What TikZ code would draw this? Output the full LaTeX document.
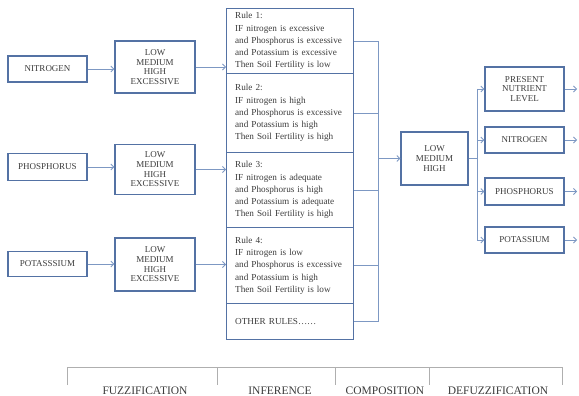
\documentclass[tikz,border=0pt]{standalone}
\usepackage{fontspec}
\setmainfont{Liberation Serif}
\usetikzlibrary{arrows.meta}
\definecolor{boxc}{RGB}{84,114,164}
\definecolor{linec}{RGB}{125,152,195}
\definecolor{txt}{RGB}{60,60,60}
\definecolor{brk}{RGB}{175,175,175}
\begin{document}
\begin{tikzpicture}[x=1pt,y=-1pt,
  box/.style={draw=boxc, line width=1.3pt, fill=white, text=txt, align=center, inner sep=0pt, font=\fontsize{9}{9.7}\selectfont},
  rulebox/.style={draw=boxc, line width=1.3pt, text=txt, align=left, anchor=north west, minimum width=127pt, text width=110pt, inner xsep=8.5pt, inner ysep=0pt, font=\fontsize{9.2}{12.3}\selectfont},
  conn/.style={draw=linec, line width=0.8pt},
  arr/.style={conn, -{Straight Barb[length=3pt,width=6pt]}},
  lbl/.style={text=txt, font=\fontsize{11.5}{12}\selectfont, anchor=base, inner sep=0pt}]
\useasboundingbox (0,0) rectangle (579,396);

% rules column
\node[rulebox, minimum height=65pt] (r1) at (226,8) {Rule 1:\\IF nitrogen is excessive\\and Phosphorus is excessive\\and Potassium is excessive\\Then Soil Fertility is low};
\node[rulebox, minimum height=79pt] (r2) at (226,73) {Rule 2:\\IF nitrogen is high\\and Phosphorus is excessive\\and Potassium is high\\Then Soil Fertility is high};
\node[rulebox, minimum height=75pt] (r3) at (226,152) {Rule 3:\\IF nitrogen is adequate\\and Phosphorus is high\\and Potassium is adequate\\Then Soil Fertility is high};
\node[rulebox, minimum height=76pt] (r4) at (226,227) {Rule 4:\\IF nitrogen is low\\and Phosphorus is excessive\\and Potassium is high\\Then Soil Fertility is low};
\node[rulebox, minimum height=36pt] (r5) at (226,303) {OTHER RULES……};

% inputs
\node[box, minimum width=79pt, minimum height=26pt] (in1) at (47.5,69) {NITROGEN};
\node[box, minimum width=79pt, minimum height=27pt] (in2) at (47.5,167) {PHOSPHORUS};
\node[box, minimum width=79pt, minimum height=25pt] (in3) at (47.5,264) {POTASSSIUM};

% fuzzification
\node[box, minimum width=80pt, minimum height=52pt] (f1) at (155,67) {LOW\\MEDIUM\\HIGH\\EXCESSIVE};
\node[box, minimum width=80pt, minimum height=50pt] (f2) at (155,169.5) {LOW\\MEDIUM\\HIGH\\EXCESSIVE};
\node[box, minimum width=80pt, minimum height=53pt] (f3) at (155,264.5) {LOW\\MEDIUM\\HIGH\\EXCESSIVE};

% composition
\node[box, minimum width=67pt, minimum height=53pt] (lmh) at (434.5,158.5) {LOW\\MEDIUM\\HIGH};

% outputs
\node[box, minimum width=79pt, minimum height=44pt] (o1) at (524.5,89) {PRESENT\\NUTRIENT\\LEVEL};
\node[box, minimum width=79pt, minimum height=26pt] (o2) at (524.5,140) {NITROGEN};
\node[box, minimum width=79pt, minimum height=27pt] (o3) at (524.5,191.5) {PHOSPHORUS};
\node[box, minimum width=79pt, minimum height=26pt] (o4) at (524.5,240) {POTASSIUM};

% connectors left
\draw[arr] (in1.east) -- (in1.east -| f1.west);
\draw[arr] (in2.east) -- (in2.east -| f2.west);
\draw[arr] (in3.east) -- (in3.east -| f3.west);
\draw[arr] (f1.east) -- (f1.east -| r1.west);
\draw[arr] (f2.east) -- (f2.east -| r3.west);
\draw[arr] (f3.east) -- (f3.east -| r4.west);

% bus from rules
\coordinate (b1) at (378,0);
\draw[conn] (r1.east) -- (r1.east -| b1) -- (r5.east -| b1) -- (r5.east);
\draw[conn] (r2.east) -- (r2.east -| b1);
\draw[conn] (r3.east) -- (r3.east -| b1);
\draw[conn] (r4.east) -- (r4.east -| b1);
\draw[arr] (b1 |- lmh.west) -- (lmh.west);

% bus to outputs
\coordinate (b2) at (477,0);
\coordinate (ex) at (577,0);
\draw[conn] (lmh.east) -- (lmh.east -| b2);
\draw[conn] (o1.west -| b2) -- (o4.west -| b2);
\foreach \i in {1,2,3,4}{
  \draw[arr] (o\i.west -| b2) -- (o\i.west);
  \draw[arr] (o\i.east) -- (o\i.east -| ex);
}

% bottom bracket
\draw[brk, line width=0.9pt] (67,385) -- (67,367) -- (562,367) -- (562,385);
\foreach \x in {217,335,429} \draw[brk, line width=0.9pt] (\x,367) -- (\x,385);
\node[lbl] (l1) at (145,394.5) {FUZZIFICATION};
\node[lbl] (l2) at (280,394.5) {INFERENCE};
\node[lbl] (l3) at (385,394.5) {COMPOSITION};
\node[lbl] (l4) at (498,394.5) {DEFUZZIFICATION};
\end{tikzpicture}
\end{document}
